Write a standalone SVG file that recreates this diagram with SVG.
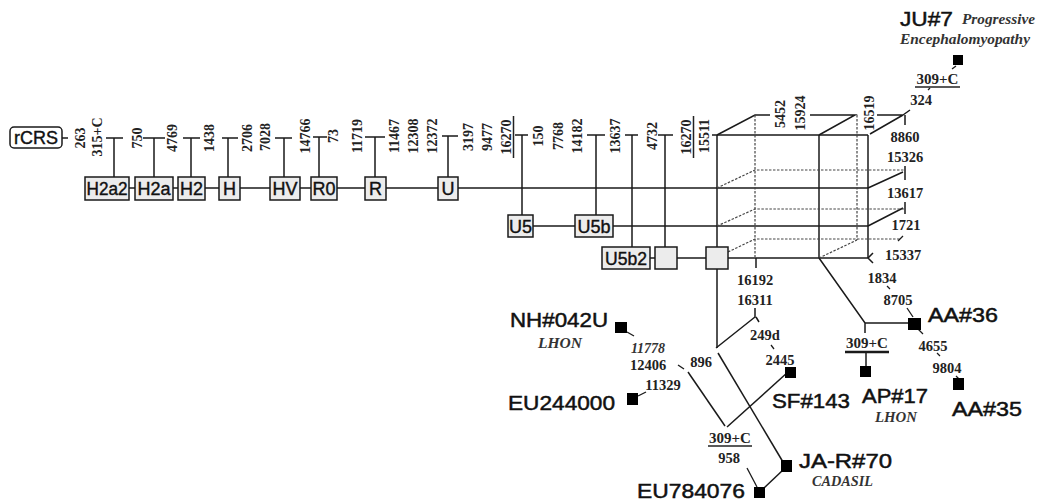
<svg xmlns="http://www.w3.org/2000/svg" width="1037" height="501" viewBox="0 0 1037 501">
<style>
.ln{stroke:#1a1a1a;stroke-width:1.5;fill:none}
.tk{stroke:#1a1a1a;stroke-width:1.3;fill:none}
.dt{stroke:#444;stroke-width:1.2;stroke-dasharray:2.5 1.5;fill:none}
.box{fill:#ececec;stroke:#1a1a1a;stroke-width:1.5}
.hg{font-family:"Liberation Sans",Arial,sans-serif;font-size:18px;text-anchor:middle;fill:#111;stroke:#111;stroke-width:0.4}
.vl{font-family:"Liberation Serif","Times New Roman",serif;font-weight:bold;font-size:14px;text-anchor:middle;fill:#222}
.hl{font-family:"Liberation Serif","Times New Roman",serif;font-weight:bold;font-size:14.5px;text-anchor:middle;fill:#222}
.nm{font-family:"Liberation Sans",Arial,sans-serif;font-size:21px;fill:#111;stroke:#111;stroke-width:0.5}
.it{font-family:"Liberation Serif","Times New Roman",serif;font-style:italic;font-weight:bold;font-size:14px;fill:#333}
.sq{fill:#000}
</style>

<g id="connectors">
<line class="ln" x1="62" y1="138" x2="68" y2="138"/>
<line class="ln" x1="129" y1="188" x2="868" y2="188"/>
<line class="ln" x1="533" y1="226" x2="868" y2="226"/>
<line class="ln" x1="650" y1="258" x2="868" y2="258"/>
<path class="ln" d="M106 138H123M114 138V177"/>
<path class="ln" d="M143 138H165M154 138V177"/>
<path class="ln" d="M183 138H200M191 138V177"/>
<path class="ln" d="M222 138H238M228 138V177"/>
<path class="ln" d="M275 138H292M284 138V177"/>
<path class="ln" d="M313 137H327M319 137V177"/>
<path class="ln" d="M365 137H385M375 137V177"/>
<path class="ln" d="M442 136H458M448 136V177"/>
<path class="ln" d="M515 135H528M522 135V215"/>
<path class="ln" d="M587 135H605M596 135V215"/>
<path class="ln" d="M625 135H638M632 135V247"/>
<path class="ln" d="M658 135H673M665 135V247"/>
<path class="ln" d="M712 135H868M717 135V348"/>
<line class="ln" x1="819" y1="135" x2="819" y2="258"/>
<line class="ln" x1="868" y1="135" x2="868" y2="258"/>
<path class="ln" d="M717 135L755 115H770"/>
<path class="ln" d="M810 115H855L819 135"/>
<path class="ln" d="M870 134L903 115M877 115H903M903 115L910 110M905 115V125"/>
<path class="ln" d="M868 188L903 172M905 166V180"/>
<path class="ln" d="M868 226L903 208M905 202V214"/>
<path class="ln" d="M868 258L873 253M868 258L873 263"/>
<path class="dt" d="M755 115V257"/>
<path class="dt" d="M857 115V240"/>
<path class="dt" d="M717 188L755 170H905"/>
<path class="dt" d="M717 226L755 209H905"/>
<path class="dt" d="M728 252L755 239H900"/>
<path class="dt" d="M819 258L857 240"/>
<path class="tk" d="M898 241L903 236"/>
<line class="ln" x1="756" y1="258" x2="756" y2="268"/>
<path class="ln" d="M716 348L755 317V308M756 317L759 322"/>
<line class="ln" x1="718" y1="353" x2="783" y2="462"/>
<line class="ln" x1="688" y1="372" x2="725" y2="426"/>
<line class="ln" x1="727" y1="427" x2="788" y2="372"/>
<path class="tk" d="M678 365L684 369"/>
<path class="tk" d="M771 345L774 349"/>
<path class="tk" d="M747 468L757 487"/>
<path class="ln" d="M783 470L764 488"/>
<path class="tk" d="M627 332L634 336"/>
<path class="tk" d="M638 396L646 392"/>
<path class="ln" d="M819 258L865 323H910M865 323V333"/>
<line stroke="#1a1a1a" stroke-width="2.5" x1="845" y1="352" x2="889" y2="352"/>
<line class="ln" x1="866" y1="352" x2="866" y2="366"/>
<path class="tk" d="M887 286L890 289"/>
<path class="tk" d="M907 308L913 317"/>
<path class="tk" d="M918 329L923 334"/>
<path class="tk" d="M937 353L940 356"/>
<path class="tk" d="M956 376L960 380"/>
<path class="tk" d="M956 66L952 69"/>
<path class="tk" d="M930 88L928 90"/>
<line stroke="#222" stroke-width="1.3" x1="915" y1="87" x2="960" y2="87"/>
<line stroke="#222" stroke-width="1.3" x1="708" y1="446" x2="752" y2="446"/>
<line stroke="#222" stroke-width="1.5" x1="513.5" y1="116" x2="513.5" y2="158"/>
<line stroke="#222" stroke-width="1.5" x1="693.5" y1="116" x2="693.5" y2="158"/>
</g>

<g id="rCRS"><rect x="10" y="127" width="52" height="21" rx="4" fill="#fff" stroke="#1a1a1a" stroke-width="1.5"/><text class="hg" x="36" y="144" font-size="17">rCRS</text></g>
<g id="H2a2"><rect class="box" x="85" y="177" width="44" height="23"/><text class="hg" x="107" y="195" textLength="41" lengthAdjust="spacingAndGlyphs">H2a2</text></g>
<g id="H2a"><rect class="box" x="135" y="177" width="38" height="23"/><text class="hg" x="154" y="195">H2a</text></g>
<g id="H2"><rect class="box" x="178" y="177" width="27" height="23"/><text class="hg" x="191.5" y="195">H2</text></g>
<g id="H"><rect class="box" x="219" y="177" width="21" height="23"/><text class="hg" x="229.5" y="195">H</text></g>
<g id="HV"><rect class="box" x="270" y="177" width="30" height="23"/><text class="hg" x="285" y="195">HV</text></g>
<g id="R0"><rect class="box" x="311" y="177" width="26" height="23"/><text class="hg" x="324" y="195">R0</text></g>
<g id="R"><rect class="box" x="365" y="177" width="21" height="23"/><text class="hg" x="375.5" y="195">R</text></g>
<g id="U"><rect class="box" x="438" y="177" width="20" height="23"/><text class="hg" x="448" y="195">U</text></g>
<g id="U5"><rect class="box" x="508" y="215" width="25" height="22"/><text class="hg" x="520.5" y="232.5">U5</text></g>
<g id="U5b"><rect class="box" x="575" y="215" width="38" height="22"/><text class="hg" x="594" y="232.5">U5b</text></g>
<g id="U5b2"><rect class="box" x="602" y="247" width="48" height="22"/><text class="hg" x="626" y="264.5" textLength="42" lengthAdjust="spacingAndGlyphs">U5b2</text></g>
<g id="node-g1"><rect class="box" x="655" y="247" width="22" height="22" fill="#e2e2e2"/></g>
<g id="node-g2"><rect class="box" x="706" y="247" width="22" height="22" fill="#e2e2e2"/></g>

<g id="mutations-top">
<text class="vl" transform="translate(84.5,138) rotate(-90)">263</text>
<text class="vl" transform="translate(102,137) rotate(-90)">315+C</text>
<text class="vl" transform="translate(142,138) rotate(-90)">750</text>
<text class="vl" transform="translate(177,138) rotate(-90)">4769</text>
<text class="vl" transform="translate(214,138) rotate(-90)">1438</text>
<text class="vl" transform="translate(252,138) rotate(-90)">2706</text>
<text class="vl" transform="translate(270,137) rotate(-90)">7028</text>
<text class="vl" transform="translate(310,136) rotate(-90)">14766</text>
<text class="vl" transform="translate(338,136) rotate(-90)">73</text>
<text class="vl" transform="translate(362,136) rotate(-90)">11719</text>
<text class="vl" transform="translate(399,136) rotate(-90)">11467</text>
<text class="vl" transform="translate(418,136) rotate(-90)">12308</text>
<text class="vl" transform="translate(437,136) rotate(-90)">12372</text>
<text class="vl" transform="translate(473,137) rotate(-90)">3197</text>
<text class="vl" transform="translate(492,137) rotate(-90)">9477</text>
<text class="vl" transform="translate(511,137) rotate(-90)">16270</text>
<text class="vl" transform="translate(543,136) rotate(-90)">150</text>
<text class="vl" transform="translate(563,136) rotate(-90)">7768</text>
<text class="vl" transform="translate(582,136) rotate(-90)">14182</text>
<text class="vl" transform="translate(620,136) rotate(-90)">13637</text>
<text class="vl" transform="translate(657,136) rotate(-90)">4732</text>
<text class="vl" transform="translate(691,137) rotate(-90)">16270</text>
<text class="vl" transform="translate(708.5,136) rotate(-90)">15511</text>
<text class="vl" transform="translate(785,114) rotate(-90)">5452</text>
<text class="vl" transform="translate(805,113) rotate(-90)">15924</text>
<text class="vl" transform="translate(873.5,113) rotate(-90)">16519</text>
</g>

<g id="mutations-right">
<text class="hl" x="921" y="105">324</text>
<text class="hl" x="905" y="142">8860</text>
<text class="hl" x="905" y="162">15326</text>
<text class="hl" x="905" y="198">13617</text>
<text class="hl" x="906" y="230">1721</text>
<text class="hl" x="903" y="260">15337</text>
<text class="hl" x="882" y="283">1834</text>
<text class="hl" x="898" y="305">8705</text>
<text class="hl" x="755" y="285">16192</text>
<text class="hl" x="755" y="305">16311</text>
<text class="hl" x="765" y="340">249d</text>
<text class="hl" x="780" y="365">2445</text>
<text class="hl" x="701" y="367">896</text>
<text class="hl" x="648" y="370">12406</text>
<text class="hl" x="663" y="390">11329</text>
<text class="hl" x="729" y="463">958</text>
<text class="hl" x="933" y="351">4655</text>
<text class="hl" x="947" y="373">9804</text>
<text class="hl" x="937.5" y="84" style="font-size:15px">309+C</text>
<text class="hl" x="730" y="443" style="font-size:15px">309+C</text>
<text class="hl" x="867" y="348" style="font-size:15px">309+C</text>
<text class="it" x="648" y="353" text-anchor="middle" font-size="14.5">11778</text>
</g>

<g id="JU7"><rect class="sq" x="953" y="55" width="10" height="10"/><text class="nm" x="900" y="26" textLength="53" lengthAdjust="spacingAndGlyphs">JU#7</text><text class="it" x="962" y="24" textLength="73" lengthAdjust="spacingAndGlyphs" font-size="15">Progressive</text><text class="it" x="900" y="44" textLength="130" lengthAdjust="spacingAndGlyphs" font-size="15">Encephalomyopathy</text></g>
<g id="NH042U"><rect class="sq" x="615" y="322" width="12" height="11"/><text class="nm" x="510" y="327" textLength="98" lengthAdjust="spacingAndGlyphs">NH#042U</text><text class="it" x="538" y="348" textLength="44" lengthAdjust="spacingAndGlyphs">LHON</text></g>
<g id="EU244000"><rect class="sq" x="627" y="393" width="11" height="12"/><text class="nm" x="508" y="410" textLength="107" lengthAdjust="spacingAndGlyphs">EU244000</text></g>
<g id="SF143"><rect class="sq" x="785" y="367" width="11" height="11"/><text class="nm" x="772" y="408" textLength="78" lengthAdjust="spacingAndGlyphs">SF#143</text></g>
<g id="JAR70"><rect class="sq" x="781" y="460" width="11" height="12"/><text class="nm" x="799" y="468" textLength="93" lengthAdjust="spacingAndGlyphs">JA-R#70</text><text class="it" x="812" y="486" textLength="61" lengthAdjust="spacingAndGlyphs">CADASIL</text></g>
<g id="EU784076"><rect class="sq" x="754" y="487" width="11" height="11"/><text class="nm" x="637" y="498" textLength="108" lengthAdjust="spacingAndGlyphs">EU784076</text></g>
<g id="AA36"><rect class="sq" x="908" y="318" width="13" height="12"/><text class="nm" x="928" y="322" textLength="70" lengthAdjust="spacingAndGlyphs">AA#36</text></g>
<g id="AP17"><rect class="sq" x="860" y="366" width="11" height="11"/><text class="nm" x="862" y="403" textLength="66" lengthAdjust="spacingAndGlyphs">AP#17</text><text class="it" x="875" y="422" textLength="42" lengthAdjust="spacingAndGlyphs">LHON</text></g>
<g id="AA35"><rect class="sq" x="953" y="378" width="11" height="12"/><text class="nm" x="952" y="416" textLength="70" lengthAdjust="spacingAndGlyphs">AA#35</text></g>
</svg>
